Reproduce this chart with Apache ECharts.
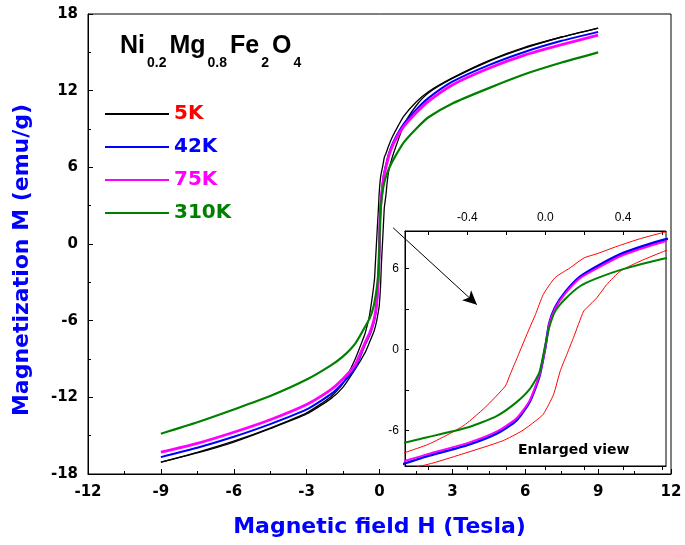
<!DOCTYPE html>
<html>
<head>
<meta charset="utf-8">
<script src="https://cdn.jsdelivr.net/npm/echarts@6/dist/echarts.min.js"></script>
<style>html,body{margin:0;padding:0;background:#fff}#c{width:685px;height:545px}</style>
</head>
<body>
<div id="c"></div>
<script>
// ---- data ----
const H_MAIN = [-9,-7.5,-6,-4.5,-3,-2,-1.5,-1,-0.6,-0.4,-0.25,-0.15,-0.08,-0.03,0,0.02,0.05,0.1,0.18,0.27,0.4,0.6,1,1.5,2,3,4.5,6,7.5,9];
const M_42K  = [-16.68,-15.95,-15.09,-14.1,-12.95,-11.75,-10.85,-9.7,-7.9,-7.1,-6.25,-5.3,-3.9,-2.0,0.1,1.9,3.1,4.2,5.4,6.2,7.15,8.1,9.4,10.5,11.4,12.7,14.0,15.05,15.9,16.6];
const M_75K  = [-16.29,-15.6,-14.73,-13.75,-12.56,-11.4,-10.55,-9.45,-7.75,-6.95,-6.1,-5.15,-3.8,-1.9,0.1,1.85,3.0,4.1,5.3,6.05,7.0,7.95,9.2,10.25,11.15,12.45,13.75,14.8,15.6,16.35];
const M_310K = [-14.85,-13.95,-12.95,-11.9,-10.61,-9.5,-8.8,-7.8,-6.5,-5.8,-4.95,-3.95,-2.95,-1.7,0.3,1.6,2.8,3.7,4.7,5.3,5.95,6.7,7.95,9.0,9.9,11.0,12.2,13.3,14.2,15.0];

const H_5K_DESC = [9,7.5,6,4.5,3,2,1.5,1,0.62,0.49,0.37,0.265,0.2,0.128,0.05,-0.01,-0.05,-0.08,-0.137,-0.18,-0.205,-0.31,-0.41,-0.48,-0.6,-0.72,-1,-1.5,-2,-3,-4.5,-6,-7.5,-9];
const M_5K_DESC = [16.9,16.2,15.4,14.35,13.0,11.9,11.1,10.0,8.72,8.22,7.65,7.09,6.79,6.05,5.31,4.07,2.59,1.6,-0.37,-1.85,-2.72,-4.32,-5.56,-6.17,-7.04,-7.65,-9.0,-10.9,-11.95,-13.21,-14.4,-15.43,-16.3,-17.07];
const H_5K_ASC  = [-9,-7.5,-6,-4.5,-3,-2,-1.5,-1,-0.6,-0.43,-0.22,-0.12,-0.05,-0.01,0.043,0.077,0.111,0.145,0.197,0.214,0.265,0.316,0.385,0.487,0.62,1,1.5,2,3,4.5,6,7.5,9];
const M_5K_ASC  = [-17.07,-16.35,-15.5,-14.45,-13.3,-12.1,-11.2,-9.8,-8.52,-7.78,-6.79,-6.05,-5.31,-4.81,-3.33,-1.6,-0.37,0.87,2.84,3.09,3.83,4.81,5.8,6.54,7.33,9.3,10.8,11.8,12.95,14.3,15.35,16.2,16.9];

const LEGEND_NAMES = ['5K','42K','75K','310K'];
const X_TICKS_MAIN = [-12,-9,-6,-3,0,3,6,9,12];
const Y_TICKS_MAIN = [-18,-12,-6,0,6,12,18];
const X_TICKS_INSET = [-0.6,-0.4,-0.2,0,0.2,0.4,0.6];
const X_LABELS_INSET = [-0.4,0,0.4];
const Y_TICKS_INSET = [-6,-3,0,3,6];
const Y_LABELS_INSET = [-6,0,6];

const pairs = (xs, ys) => xs.map((x, i) => [x, ys[i]]);

const BOLD = '"DejaVu Sans", sans-serif';
const chart = echarts.init(document.getElementById('c'), null, {renderer: 'canvas'});

function lineSeries(name, xs, ys, color, width, xi, yi) {
  return {
    name, type: 'line', data: pairs(xs, ys), xAxisIndex: xi, yAxisIndex: yi,
    showSymbol: false, symbol: 'none', smooth: 0.2,
    lineStyle: {color, width}, itemStyle: {color}, silent: true, animation: false,
    emphasis: {disabled: true}
  };
}

const mainArrow = {
  silent: true, symbol: ['none', 'arrow'], symbolSize: [10, 14],
  label: {show: false}, emphasis: {disabled: true},
  lineStyle: {color: '#000', width: 1, type: 'solid'},
  data: [[{coord: [0.56, 1.27]}, {coord: [4.01, -4.75]}]]
};

const s5 = lineSeries('5K', H_5K_DESC, M_5K_DESC, '#000000', 1.3, 0, 0);
s5.markLine = mainArrow;

const option = {
  backgroundColor: '#fff',
  animation: false,
  title: {
    left: 120, top: 34, padding: 0,
    text: '{b|Ni}{s|0.2}{b|Mg}{s|0.8}{b|Fe}{s|2}{b|O}{s|4}',
    textStyle: {
      rich: {
        b: {fontFamily: '"Liberation Sans", Arial, sans-serif', fontWeight: 'bold', fontSize: 25, lineHeight: 26, verticalAlign: 'top', color: '#000'},
        s: {fontFamily: '"Liberation Sans", Arial, sans-serif', fontSize: 14, lineHeight: 58, color: '#000', padding: [0, 3, 0, 2]}
      }
    }
  },
  legend: {
    orient: 'vertical', left: 105, top: 104, padding: 0,
    itemWidth: 64, itemHeight: 2, itemGap: 13, icon: 'rect', selectedMode: false,
    textStyle: {fontFamily: BOLD, fontWeight: 'bold', fontSize: 20, lineHeight: 20},
    data: [
      {name: '5K', textStyle: {color: '#ff0000'}},
      {name: '42K', textStyle: {color: '#0000ff'}},
      {name: '75K', textStyle: {color: '#ff00ff'}},
      {name: '310K', textStyle: {color: '#008000'}}
    ]
  },
  grid: [
    {left: 88, right: 14, top: 14, bottom: 71, show: true, borderColor: '#000', borderWidth: 1, backgroundColor: 'transparent'},
    {left: 405, right: 19, top: 231, bottom: 79, show: true, borderColor: '#000', borderWidth: 1, backgroundColor: '#fff'}
  ],
  xAxis: [
    {
      gridIndex: 0, type: 'value', min: -12, max: 12, interval: 3,
      name: 'Magnetic field H (Tesla)', nameLocation: 'middle', nameGap: 42,
      nameTextStyle: {fontFamily: BOLD, fontWeight: 'bold', fontSize: 22, color: '#0000ff'},
      axisLine: {show: true, onZero: false, lineStyle: {color: '#000', width: 1}},
      axisTick: {show: true, inside: true, length: 5, lineStyle: {color: '#000'}, customValues: X_TICKS_MAIN},
      minorTick: {show: true, splitNumber: 2, length: 3, lineStyle: {color: '#000'}},
      axisLabel: {color: '#000', fontFamily: BOLD, fontWeight: 'bold', fontSize: 15, margin: 11, customValues: X_TICKS_MAIN, formatter: v => String(v)},
      splitLine: {show: false}
    },
    {
      gridIndex: 1, type: 'value', min: -0.72, max: 0.62, position: 'top',
      axisLine: {show: true, onZero: false, lineStyle: {color: '#000', width: 1}},
      axisTick: {show: true, inside: true, length: 4, lineStyle: {color: '#000'}, customValues: X_TICKS_INSET},
      axisLabel: {color: '#000', fontFamily: '"Liberation Sans", Arial, sans-serif', fontSize: 12, margin: 7, customValues: X_LABELS_INSET, formatter: v => v.toFixed(1)},
      splitLine: {show: false}
    },
    {
      gridIndex: 1, type: 'value', min: -0.72, max: 0.62, position: 'bottom',
      axisLine: {show: true, onZero: false, lineStyle: {color: '#000', width: 1}},
      axisTick: {show: true, inside: false, length: 4, lineStyle: {color: '#000'}, customValues: X_TICKS_INSET},
      axisLabel: {show: false},
      splitLine: {show: false}
    }
  ],
  yAxis: [
    {
      gridIndex: 0, type: 'value', min: -18, max: 18, interval: 6,
      name: 'Magnetization M (emu/g)', nameLocation: 'middle', nameGap: 55, nameRotate: 90,
      nameTextStyle: {fontFamily: BOLD, fontWeight: 'bold', fontSize: 22, color: '#0000ff', padding: [0, 32, 0, 0]},
      axisLine: {show: true, onZero: false, lineStyle: {color: '#000', width: 1}},
      axisTick: {show: true, inside: true, length: 5, lineStyle: {color: '#000'}, customValues: Y_TICKS_MAIN},
      minorTick: {show: true, splitNumber: 2, length: 3, lineStyle: {color: '#000'}},
      axisLabel: {color: '#000', fontFamily: BOLD, fontWeight: 'bold', fontSize: 15, margin: 10, customValues: Y_TICKS_MAIN, formatter: v => String(v)},
      splitLine: {show: false}
    },
    {
      gridIndex: 1, type: 'value', min: -8.65, max: 8.78,
      axisLine: {show: true, onZero: false, lineStyle: {color: '#000', width: 1}},
      axisTick: {show: true, inside: true, length: 4, lineStyle: {color: '#000'}, customValues: Y_TICKS_INSET},
      axisLabel: {color: '#000', fontFamily: '"Liberation Sans", Arial, sans-serif', fontSize: 12, margin: 6, customValues: Y_LABELS_INSET, formatter: v => String(v)},
      splitLine: {show: false}
    }
  ],
  graphic: [
    {type: 'text', left: 518, top: 443, z: 100, silent: true,
     style: {text: 'Enlarged view', fill: '#000', font: 'bold 14px "DejaVu Sans", sans-serif'}}
  ],
  series: [
    s5,
    lineSeries('5K-asc', H_5K_ASC, M_5K_ASC, '#000000', 1.3, 0, 0),
    lineSeries('42K', H_MAIN, M_42K, '#0000ff', 2, 0, 0),
    lineSeries('75K', H_MAIN, M_75K, '#ff00ff', 2.8, 0, 0),
    lineSeries('310K', H_MAIN, M_310K, '#008000', 2.2, 0, 0),
    lineSeries('in-5K', H_5K_DESC, M_5K_DESC, '#ff0000', 1, 1, 1),
    lineSeries('in-5K-asc', H_5K_ASC, M_5K_ASC, '#ff0000', 1, 1, 1),
    lineSeries('in-42K', H_MAIN, M_42K, '#0000ff', 2.5, 1, 1),
    lineSeries('in-75K', H_MAIN, M_75K, '#ff00ff', 2, 1, 1),
    lineSeries('in-310K', H_MAIN, M_310K, '#008000', 2, 1, 1)
  ]
};
chart.setOption(option);
</script>
</body>
</html>
